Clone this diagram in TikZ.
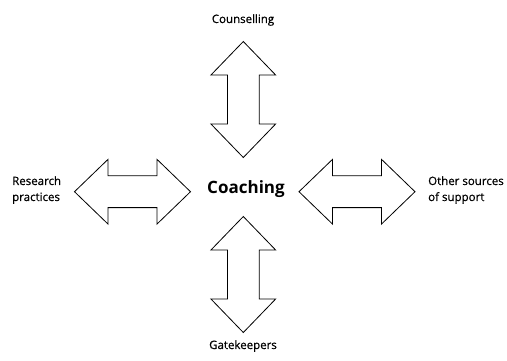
\documentclass[tikz,border=0pt]{standalone}
\usepackage{fontspec}
\setmainfont{Open Sans}
\newfontfamily\semifont{Open Sans}[FakeBold=0.6]
\usetikzlibrary{positioning, shapes.arrows}
\tikzset{
  label/.style={font=\semifont\fontsize{11.5}{16}\selectfont, align=left, inner sep=0pt},
  blockarrow/.style={double arrow, draw, thick, fill=white, inner xsep=0pt, inner ysep=15.5pt,
    minimum height=116, double arrow head extend=16.5, double arrow tip angle=88},
}

\begin{document}
\begin{tikzpicture}[x=1pt, y=-1pt]
\useasboundingbox (0,0) rectangle (507,360);
% centre and the four things around it
\node[font=\fontsize{17}{20}\selectfont\bfseries, inner sep=0pt] (coach) at (246,189) {Coaching};
\node[label] (couns) at (243,20) {Counselling};
\node[label] (gate) at (243,346) {Gatekeepers};
\node[label, anchor=west] (res) at (12,190) {Research\\practices};
\node[label, anchor=west] (other) at (428,190) {Other sources\\of support};
% block arrows
\node[blockarrow, rotate=90] (up) at (243.3,99.5) {};
\node[blockarrow, rotate=90] (down) at (243.3,274.5) {};
\node[blockarrow] (left) at (132.5,191.7) {};
\node[blockarrow] (right) at (357,191.7) {};
\end{tikzpicture}
\end{document}
